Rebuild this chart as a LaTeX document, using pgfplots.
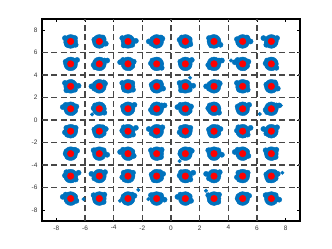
\documentclass[border=0pt]{standalone}
\usepackage{pgfplots}
\pgfplotsset{compat=1.18}
\usepackage{fontspec}
\setmainfont{Liberation Sans}
\definecolor{mblue}{rgb}{0,0.447,0.741}
\definecolor{gridc}{rgb}{0.28,0.28,0.28}
\begin{document}
\begin{tikzpicture}
\begin{axis}[
  scale only axis,
  width=258bp, height=202bp,
  xmin=-9, xmax=9, ymin=-9, ymax=9,
  xtick={-8,-6,...,8}, ytick={-8,-6,...,8},
  tick align=inside,
  major tick length=3bp,
  tick style={line width=0.5bp, black},
  axis line style={line width=2.5bp, black},
  ticklabel style={font=\fontsize{6.5}{7}\selectfont, text=black!80},
  /pgf/number format/assume math mode=true,
  xticklabel style={yshift=-1bp},
  yticklabel style={xshift=-1bp},
  extra x ticks={-6,-4,...,6}, extra y ticks={-6,-4,...,6},
  extra tick style={grid=major, major tick length=0pt, ticklabel style={opacity=0}},
  extra x tick labels={}, extra y tick labels={},
  major grid style={gridc, line width=1.4bp, dash pattern=on 6bp off 3.5bp},
  clip=true,
]
% dense core of each noisy cluster
\addplot[only marks, mark=*, mark size=6.9bp, mblue, mark options={draw=mblue, fill=mblue}] coordinates {
(-7,7)(-5,7)(-3,7)(-1,7)(1,7)(3,7)(5,7)(7,7)
(-7,5)(-5,5)(-3,5)(-1,5)(1,5)(3,5)(5,5)(7,5)
(-7,3)(-5,3)(-3,3)(-1,3)(1,3)(3,3)(5,3)(7,3)
(-7,1)(-5,1)(-3,1)(-1,1)(1,1)(3,1)(5,1)(7,1)
(-7,-1)(-5,-1)(-3,-1)(-1,-1)(1,-1)(3,-1)(5,-1)(7,-1)
(-7,-3)(-5,-3)(-3,-3)(-1,-3)(1,-3)(3,-3)(5,-3)(7,-3)
(-7,-5)(-5,-5)(-3,-5)(-1,-5)(1,-5)(3,-5)(5,-5)(7,-5)
(-7,-7)(-5,-7)(-3,-7)(-1,-7)(1,-7)(3,-7)(5,-7)(7,-7)
};
% received noisy symbols (outline of each cluster)
\addplot[only marks, mark=*, mark size=2.6bp, mblue, mark options={draw=mblue, fill=mblue}] coordinates {
(-7.3,6.9)(-6.7,7.3)(-6.95,7.3)(-7.25,6.7)(-6.65,6.7)(-7,7.05)(-7.4,7.3)
(-5.35,7.15)(-4.7,7.2)(-5.1,6.65)(-4.75,7.35)(-5.2,6.75)(-4.55,6.8)(-5.3,7.15)
(-3.4,7.3)(-2.65,7)(-2.9,7.35)(-3.15,6.8)(-3.3,6.65)(-2.7,6.7)(-2.45,7.05)
(-1.3,7.2)(-0.6,7.25)(-0.85,6.7)(-1.35,6.8)(-0.9,6.9)(-0.7,7.35)(-1.55,7)
(0.7,7.15)(1.3,7.2)(1.05,6.65)(0.75,7.35)(1.35,6.75)(1,6.8)(0.6,7.15)
(2.65,7.3)(3.3,7)(2.9,7.35)(3.25,6.8)(2.8,6.65)(3.45,6.7)(2.7,7.05)
(4.6,7.2)(5.35,7.25)(5.1,6.7)(4.85,6.8)(4.7,6.9)(5.3,7.35)(5.55,7)
(6.7,6.9)(7.4,7.3)(7.15,7.3)(6.65,6.7)(7.1,6.7)(7.3,7.05)(6.45,7.3)
(-7.35,5.2)(-6.7,5.25)(-7.1,4.7)(-6.75,4.8)(-7.2,4.9)(-6.55,5.35)(-7.3,5)
(-5.4,4.9)(-4.65,5.3)(-4.9,5.3)(-5.15,4.7)(-5.3,4.7)(-4.7,5.05)(-4.45,5.3)
(-3.3,5.15)(-2.6,5.2)(-2.85,4.65)(-3.35,5.35)(-2.9,4.75)(-2.7,4.8)(-3.55,5.15)
(-1.3,5.3)(-0.7,5)(-0.95,5.35)(-1.25,4.8)(-0.65,4.65)(-1,4.7)(-1.4,5.05)
(0.65,5.2)(1.3,5.25)(0.9,4.7)(1.25,4.8)(0.8,4.9)(1.45,5.35)(0.7,5)
(2.6,4.9)(3.35,5.3)(3.1,5.3)(2.85,4.7)(2.7,4.7)(3.3,5.05)(3.55,5.3)
(4.7,5.15)(5.4,5.2)(5.15,4.65)(4.65,5.35)(5.1,4.75)(5.3,4.8)(4.45,5.15)
(6.7,5.3)(7.3,5)(7.05,5.35)(6.75,4.8)(7.35,4.65)(7,4.7)(6.6,5.05)
(-7.4,3.3)(-6.65,3)(-6.9,3.35)(-7.15,2.8)(-7.3,2.65)(-6.7,2.7)(-6.45,3.05)
(-5.3,3.2)(-4.6,3.25)(-4.85,2.7)(-5.35,2.8)(-4.9,2.9)(-4.7,3.35)(-5.55,3)
(-3.3,2.9)(-2.7,3.3)(-2.95,3.3)(-3.25,2.7)(-2.65,2.7)(-3,3.05)(-3.4,3.3)
(-1.35,3.15)(-0.7,3.2)(-1.1,2.65)(-0.75,3.35)(-1.2,2.75)(-0.55,2.8)(-1.3,3.15)
(0.6,3.3)(1.35,3)(1.1,3.35)(0.85,2.8)(0.7,2.65)(1.3,2.7)(1.55,3.05)
(2.7,3.2)(3.4,3.25)(3.15,2.7)(2.65,2.8)(3.1,2.9)(3.3,3.35)(2.45,3)
(4.7,2.9)(5.3,3.3)(5.05,3.3)(4.75,2.7)(5.35,2.7)(5,3.05)(4.6,3.3)
(6.65,3.15)(7.3,3.2)(6.9,2.65)(7.25,3.35)(6.8,2.75)(7.45,2.8)(6.7,3.15)
(-7.3,1.15)(-6.6,1.2)(-6.85,0.65)(-7.35,1.35)(-6.9,0.75)(-6.7,0.8)(-7.55,1.15)
(-5.3,1.3)(-4.7,1)(-4.95,1.35)(-5.25,0.8)(-4.65,0.65)(-5,0.7)(-5.4,1.05)
(-3.35,1.2)(-2.7,1.25)(-3.1,0.7)(-2.75,0.8)(-3.2,0.9)(-2.55,1.35)(-3.3,1)
(-1.4,0.9)(-0.65,1.3)(-0.9,1.3)(-1.15,0.7)(-1.3,0.7)(-0.7,1.05)(-0.45,1.3)
(0.7,1.15)(1.4,1.2)(1.15,0.65)(0.65,1.35)(1.1,0.75)(1.3,0.8)(0.45,1.15)
(2.7,1.3)(3.3,1)(3.05,1.35)(2.75,0.8)(3.35,0.65)(3,0.7)(2.6,1.05)
(4.65,1.2)(5.3,1.25)(4.9,0.7)(5.25,0.8)(4.8,0.9)(5.45,1.35)(4.7,1)
(6.6,0.9)(7.35,1.3)(7.1,1.3)(6.85,0.7)(6.7,0.7)(7.3,1.05)(7.55,1.3)
(-7.3,-0.7)(-6.7,-0.95)(-6.95,-1.3)(-7.25,-1.3)(-6.65,-0.7)(-7,-0.7)(-7.4,-1.1)
(-5.35,-0.85)(-4.7,-1.2)(-5.1,-1.25)(-4.75,-0.65)(-5.2,-1.35)(-4.55,-0.8)(-5.3,-0.85)
(-3.4,-0.95)(-2.65,-1.3)(-2.9,-1.35)(-3.15,-1.2)(-3.3,-0.65)(-2.7,-1)(-2.45,-0.7)
(-1.3,-1)(-0.6,-0.65)(-0.85,-1.1)(-1.35,-1.2)(-0.9,-1.3)(-0.7,-0.75)(-1.55,-0.8)
(0.7,-0.7)(1.3,-0.95)(1.05,-1.3)(0.75,-1.3)(1.35,-0.7)(1,-0.7)(0.6,-1.1)
(2.65,-0.85)(3.3,-1.2)(2.9,-1.25)(3.25,-0.65)(2.8,-1.35)(3.45,-0.8)(2.7,-0.85)
(4.6,-0.95)(5.35,-1.3)(5.1,-1.35)(4.85,-1.2)(4.7,-0.65)(5.3,-1)(5.55,-0.7)
(6.7,-1)(7.4,-0.65)(7.15,-1.1)(6.65,-1.2)(7.1,-1.3)(7.3,-0.75)(6.45,-0.8)
(-7.35,-3)(-6.7,-2.65)(-7.1,-3.1)(-6.75,-3.2)(-7.2,-3.3)(-6.55,-2.75)(-7.3,-2.8)
(-5.4,-2.7)(-4.65,-2.95)(-4.9,-3.3)(-5.15,-3.3)(-5.3,-2.7)(-4.7,-2.7)(-4.45,-3.1)
(-3.3,-2.85)(-2.6,-3.2)(-2.85,-3.25)(-3.35,-2.65)(-2.9,-3.35)(-2.7,-2.8)(-3.55,-2.85)
(-1.3,-2.95)(-0.7,-3.3)(-0.95,-3.35)(-1.25,-3.2)(-0.65,-2.65)(-1,-3)(-1.4,-2.7)
(0.65,-3)(1.3,-2.65)(0.9,-3.1)(1.25,-3.2)(0.8,-3.3)(1.45,-2.75)(0.7,-2.8)
(2.6,-2.7)(3.35,-2.95)(3.1,-3.3)(2.85,-3.3)(2.7,-2.7)(3.3,-2.7)(3.55,-3.1)
(4.7,-2.85)(5.4,-3.2)(5.15,-3.25)(4.65,-2.65)(5.1,-3.35)(5.3,-2.8)(4.45,-2.85)
(6.7,-2.95)(7.3,-3.3)(7.05,-3.35)(6.75,-3.2)(7.35,-2.65)(7,-3)(6.6,-2.7)
(-7.4,-4.95)(-6.65,-5.3)(-6.9,-5.35)(-7.15,-5.2)(-7.3,-4.65)(-6.7,-5)(-6.45,-4.7)
(-5.3,-5)(-4.6,-4.65)(-4.85,-5.1)(-5.35,-5.2)(-4.9,-5.3)(-4.7,-4.75)(-5.55,-4.8)
(-3.3,-4.7)(-2.7,-4.95)(-2.95,-5.3)(-3.25,-5.3)(-2.65,-4.7)(-3,-4.7)(-3.4,-5.1)
(-1.35,-4.85)(-0.7,-5.2)(-1.1,-5.25)(-0.75,-4.65)(-1.2,-5.35)(-0.55,-4.8)(-1.3,-4.85)
(0.6,-4.95)(1.35,-5.3)(1.1,-5.35)(0.85,-5.2)(0.7,-4.65)(1.3,-5)(1.55,-4.7)
(2.7,-5)(3.4,-4.65)(3.15,-5.1)(2.65,-5.2)(3.1,-5.3)(3.3,-4.75)(2.45,-4.8)
(4.7,-4.7)(5.3,-4.95)(5.05,-5.3)(4.75,-5.3)(5.35,-4.7)(5,-4.7)(4.6,-5.1)
(6.65,-4.85)(7.3,-5.2)(6.9,-5.25)(7.25,-4.65)(6.8,-5.35)(7.45,-4.8)(6.7,-4.85)
(-7.3,-6.85)(-6.6,-7.2)(-6.85,-7.25)(-7.35,-6.65)(-6.9,-7.35)(-6.7,-6.8)(-7.55,-6.85)
(-5.3,-6.95)(-4.7,-7.3)(-4.95,-7.35)(-5.25,-7.2)(-4.65,-6.65)(-5,-7)(-5.4,-6.7)
(-3.35,-7)(-2.7,-6.65)(-3.1,-7.1)(-2.75,-7.2)(-3.2,-7.3)(-2.55,-6.75)(-3.3,-6.8)
(-1.4,-6.7)(-0.65,-6.95)(-0.9,-7.3)(-1.15,-7.3)(-1.3,-6.7)(-0.7,-6.7)(-0.45,-7.1)
(0.7,-6.85)(1.4,-7.2)(1.15,-7.25)(0.65,-6.65)(1.1,-7.35)(1.3,-6.8)(0.45,-6.85)
(2.7,-6.95)(3.3,-7.3)(3.05,-7.35)(2.75,-7.2)(3.35,-6.65)(3,-7)(2.6,-6.7)
(4.65,-7)(5.3,-6.65)(4.9,-7.1)(5.25,-7.2)(4.8,-7.3)(5.45,-6.75)(4.7,-6.8)
(6.6,-6.7)(7.35,-6.95)(7.1,-7.3)(6.85,-7.3)(6.7,-6.7)(7.3,-6.7)(7.55,-7.1)
};
% stray symbols
\addplot[only marks, mark=*, mark size=1.8bp, mblue, mark options={draw=mblue, fill=mblue}] coordinates {
(-5.5,0.5)(0.6,-3.66)(2.44,-6.3)(7.77,-4.7)(6.19,0.53)(4.19,5.3)(7.66,1.3)(1.33,3.77)
(-2.28,-6.23)(-1.58,-7.05)(-6.1,-7.05)(-3.56,-7.2)
};
% ideal constellation points
\addplot[only marks, mark=*, mark size=3.3bp, red, mark options={draw=red, fill=red}] coordinates {
(-7,7)(-5,7)(-3,7)(-1,7)(1,7)(3,7)(5,7)(7,7)
(-7,5)(-5,5)(-3,5)(-1,5)(1,5)(3,5)(5,5)(7,5)
(-7,3)(-5,3)(-3,3)(-1,3)(1,3)(3,3)(5,3)(7,3)
(-7,1)(-5,1)(-3,1)(-1,1)(1,1)(3,1)(5,1)(7,1)
(-7,-1)(-5,-1)(-3,-1)(-1,-1)(1,-1)(3,-1)(5,-1)(7,-1)
(-7,-3)(-5,-3)(-3,-3)(-1,-3)(1,-3)(3,-3)(5,-3)(7,-3)
(-7,-5)(-5,-5)(-3,-5)(-1,-5)(1,-5)(3,-5)(5,-5)(7,-5)
(-7,-7)(-5,-7)(-3,-7)(-1,-7)(1,-7)(3,-7)(5,-7)(7,-7)
};
\end{axis}
\path ([xshift=-42bp,yshift=-28bp]current axis.south west) rectangle ([xshift=32bp,yshift=19bp]current axis.north east);
\end{tikzpicture}
\end{document}
